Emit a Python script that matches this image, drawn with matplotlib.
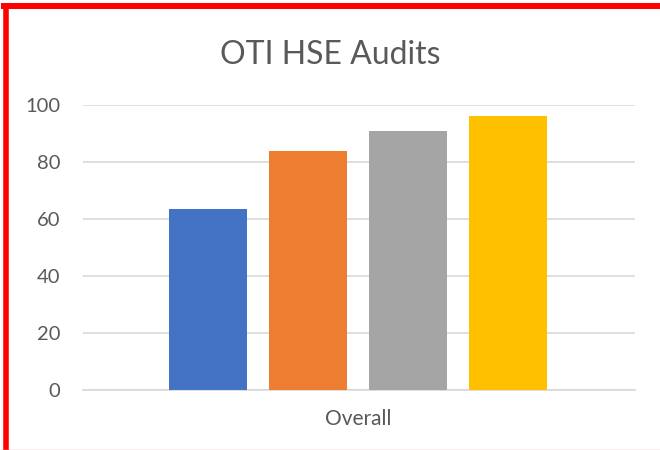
import matplotlib.pyplot as plt
from matplotlib.lines import Line2D

category = "Overall"
series = ["Series 1", "Series 2", "Series 3", "Series 4"]
values = [63.5, 84, 90.8, 96.2]
colors = ["#4472C4", "#ED7D31", "#A5A5A5", "#FFC000"]
yticks = [0, 20, 40, 60, 80, 100]

plt.rcParams["font.family"] = ["Lato", "DejaVu Sans"]
text_color = "#595959"

fig = plt.figure(figsize=(6.6, 4.5), dpi=100)
ax = fig.add_axes([83 / 660, 1 - 390 / 450, (635 - 83) / 660, (390 - 105) / 450])

offsets = [i - (len(values) - 1) / 2 for i in range(len(values))]
ax.bar(offsets, values, width=0.78, color=colors, label=series, zorder=3)

ax.set_ylim(0, 100)
ax.set_xlim(-2.75, 2.77)
ax.set_yticks(yticks)
ax.set_yticklabels([str(v) for v in yticks], fontsize=14.5, color=text_color)
ax.set_xticks([0])
ax.set_xticklabels([category], fontsize=15, color=text_color)
ax.tick_params(axis="both", length=0)
ax.tick_params(axis="x", pad=14)
ax.tick_params(axis="y", pad=16.5)

ax.grid(axis="y", color="#d9d9d9", linewidth=1.2, zorder=0)
for side in ["top", "right", "left"]:
    ax.spines[side].set_visible(False)
ax.spines["bottom"].set_color("#d9d9d9")
ax.spines["bottom"].set_linewidth(1.2)

fig.text(330 / 660, 1 - 55 / 450, "OTI HSE Audits", ha="center", va="center",
         fontsize=23, color=text_color)

# red frame (left and top), faint bottom edge
fig.add_artist(Line2D([5.5 / 660, 5.5 / 660], [0, 1 - 6 / 450], color="red", linewidth=4))
fig.add_artist(Line2D([3.5 / 660, 1], [1 - 6 / 450, 1 - 6 / 450], color="red", linewidth=4.3))
fig.add_artist(Line2D([0, 1], [0.5 / 450, 0.5 / 450], color="#f4a6a6", linewidth=1))

fig.savefig("out.png", dpi=100)
